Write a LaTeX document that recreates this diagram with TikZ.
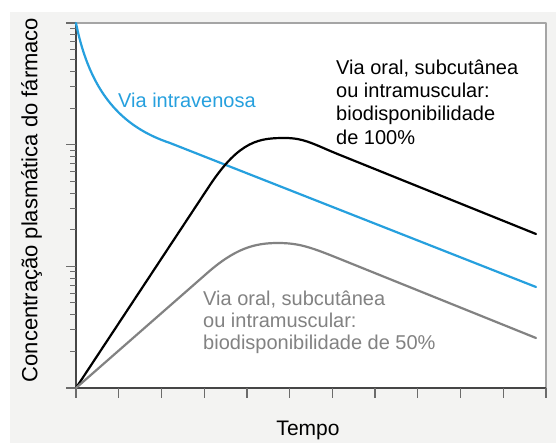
\documentclass[tikz,border=0pt]{standalone}
\usepackage{fontspec}
\setmainfont{Liberation Sans}
\usepackage{xcolor}
\usepackage{tikz}
\definecolor{ivblue}{RGB}{38,160,222}
\definecolor{halfgray}{RGB}{130,130,130}
\definecolor{bggray}{RGB}{243,243,242}
\definecolor{axisgray}{RGB}{70,70,70}
\definecolor{framegray}{RGB}{165,165,165}
\tikzset{route/.style={line width=2.2pt, line join=round, line cap=round}}
\tikzset{axisline/.style={line width=2pt, color=axisgray}}
\tikzset{axtick/.style={line width=1.3pt, color=axisgray!80}}
\tikzset{routetext/.style={inner sep=0pt, align=left, anchor=base west, font=\fontsize{20}{23.3}\selectfont}}

\begin{document}
\begin{tikzpicture}[x=1pt, y=-1pt, line join=bevel]
		\useasboundingbox (0,0) rectangle (558,443);
		\fill[bggray] (10,12) rectangle (556,443);
		\fill[white] (76,23) rectangle (546,388);
		% frame and axes
		\draw[framegray, line width=1.5pt] (76,23) -- (546,23) -- (546,388);
		\draw[axisline] (76,23) -- (76,388);
		\draw[axisline] (67,388) -- (546,388);
		\foreach \i in {0,...,11} {
			\draw[axtick] ({76+\i*42.73},388) -- ({76+\i*42.73},398);
		}
		\foreach \d in {0,1,2,3} {
			\draw[axtick] (66,{388-\d*121.67}) -- (76,{388-\d*121.67});
		}
		\foreach \d in {0,1,2} {
			\foreach \m in {2,...,9} {
				\draw[axtick, line width=1pt] (70,{388-(\d+log10(\m))*121.67}) -- (76,{388-(\d+log10(\m))*121.67});
			}
		}
		% curves
		\draw[route, ivblue] (76,23) .. controls (90,93) and (122,127) .. (170,143) -- (536,287);
		\draw[route, black] (76,388) -- (210,185) .. controls (240,140) and (260,138) .. (285,138)
			.. controls (305,138) and (315,145) .. (340,155) -- (536,234);
		\draw[route, halfgray] (76,388) -- (205,275) .. controls (235,248) and (255,243) .. (278,243)
			.. controls (298,243) and (310,247) .. (335,257) -- (536,338);
		% labels (anchored at the baseline of the last line)
		\node[routetext, text=ivblue] (iv) at (118,108) {Via intravenosa};
		\node[routetext] (full) at (336,144.3) {Via oral, subcutânea\\ou intramuscular:\\biodisponibilidade\\de 100\%};
		\node[routetext, text=halfgray, font=\fontsize{20}{22}\selectfont] (half) at (203,350) {Via oral, subcutânea\\ou intramuscular:\\biodisponibilidade de 50\%};
		\node[rotate=90, anchor=base, inner sep=0pt, font=\fontsize{22}{26}\selectfont] (conc) at (37.5,200) {Concentração plasmática do fármaco};
		\node[anchor=base, inner sep=0pt, font=\fontsize{21}{25}\selectfont] (tempo) at (308,436) {Tempo};
	\end{tikzpicture}
\end{document}
